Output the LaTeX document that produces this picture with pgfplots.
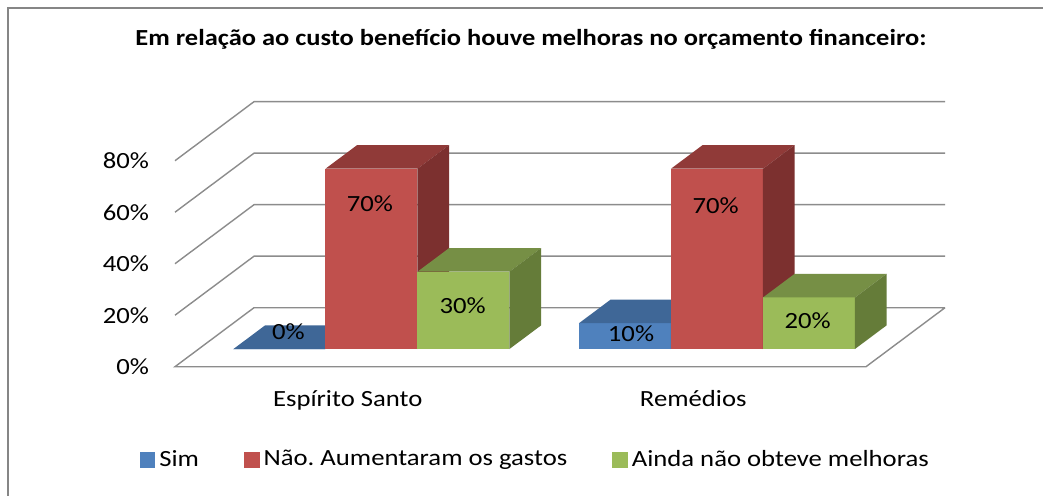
\documentclass[border=0pt]{standalone}
\usepackage{pgfplots}
\pgfplotsset{compat=1.18}
\usepackage{fontspec}
\setmainfont{Carlito}[FakeStretch=1.15]

\definecolor{sBlue}{HTML}{4F81BD}
\definecolor{sBluetop}{HTML}{3F6797}
\definecolor{sBlueside}{HTML}{385D8A}
\definecolor{sRed}{HTML}{C0504D}
\definecolor{sRedtop}{HTML}{903A38}
\definecolor{sRedside}{HTML}{7C302F}
\definecolor{sGreen}{HTML}{9BBB59}
\definecolor{sGreentop}{HTML}{768F45}
\definecolor{sGreenside}{HTML}{657C39}
\definecolor{gridgray}{HTML}{8C8C8C}
\definecolor{framegray}{HTML}{868686}

% #1 left x, #2 right x, #3 value (%), #4 colour
\newcommand{\cube}[4]{%
  \addplot3[fill=#4, draw=none, forget plot] coordinates {(#1,0.3,0) (#2,0.3,0) (#2,0.3,#3) (#1,0.3,#3)};
  \addplot3[fill=#4top, draw=none, forget plot] coordinates {(#1,0.3,#3) (#2,0.3,#3) (#2,0.7,#3) (#1,0.7,#3)};
  \addplot3[fill=#4side, draw=none, forget plot] coordinates {(#2,0.3,0) (#2,0.7,0) (#2,0.7,#3) (#2,0.3,#3)};
}

\begin{document}
\frenchspacing
\fontsize{11.6pt}{13.8pt}\selectfont
\begin{tikzpicture}[x=0.5pt, y=-0.5pt]
\useasboundingbox (0,0) rectangle (1043,496);
\fill[white] (0,0) rectangle (1043,496);
\draw[framegray, line width=1pt] (8,500) -- (8,8) -- (1050,8);
\coordinate (O) at (175,366.7);

\begin{axis}[
  at={(O)}, anchor=origin,
  x={(0.5pt,0pt)}, y={(39.5pt,29.5pt)}, z={(0pt,1.2875pt)},
  xmin=0, xmax=691, ymin=0, ymax=1, zmin=0, zmax=80,
  axis lines=left, axis line style={draw=none},
  xtick={172.75,518.25}, xticklabels={Espírito Santo,Remédios},
  ytick=\empty,
  ztick={0,20,40,60,80}, zticklabels={0\%,20\%,40\%,60\%,80\%},
  major tick length=0pt, tick style={draw=none},
  xticklabel style={anchor=north, yshift=-8pt},
  zticklabel style={anchor=east, xshift=-9pt},
  clip=false,
  legend columns=3,
  legend style={draw=none, fill=none, at={(axis description cs:0.4692,-0.352)}, anchor=center,
    /tikz/every odd column/.append style={column sep=0pt},
    /tikz/every even column/.append style={column sep=20.5pt}},
  legend cell align=left,
  legend image code/.code={\fill[#1] (0pt,-3.9pt) rectangle (7.8pt,3.9pt);},
]
% walls and floor
\addplot3[gridgray, line width=0.7pt, forget plot] coordinates {(691,1,0) (0,1,0) (0,0,0) (691,0,0) (691,1,0)};
\addplot3[gridgray, line width=0.7pt, forget plot] coordinates {(0,0,20) (0,1,20) (691,1,20)};
\addplot3[gridgray, line width=0.7pt, forget plot] coordinates {(0,0,40) (0,1,40) (691,1,40)};
\addplot3[gridgray, line width=0.7pt, forget plot] coordinates {(0,0,60) (0,1,60) (691,1,60)};
\addplot3[gridgray, line width=0.7pt, forget plot] coordinates {(0,0,80) (0,1,80) (691,1,80)};

% Espírito Santo: Sim 0, Nao 70, Ainda 30
\cube{34.75}{126.75}{0}{sBlue}
\cube{126.75}{218.75}{70}{sRed}
\cube{218.75}{310.75}{30}{sGreen}
% Remedios: Sim 10, Nao 70, Ainda 20
\cube{380.25}{472.25}{10}{sBlue}
\cube{472.25}{564.25}{70}{sRed}
\cube{564.25}{656.25}{20}{sGreen}

\node at (axis cs:89.6,0.3,6.7) {0\%};
\node at (axis cs:171.3,0.3,56.3) {70\%};
\node at (axis cs:264,0.3,16.7) {30\%};
\node at (axis cs:432.3,0.3,6.1) {10\%};
\node at (axis cs:517,0.3,55.5) {70\%};
\node at (axis cs:609,0.3,11) {20\%};

\addlegendimage{fill=sBlue, draw=none}
\addlegendentry{Sim}
\addlegendimage{fill=sRed, draw=none}
\addlegendentry{Não. Aumentaram os gastos}
\addlegendimage{fill=sGreen, draw=none}
\addlegendentry{Ainda não obteve melhoras}
\end{axis}

\node[anchor=base, font=\bfseries\fontsize{11.5pt}{14pt}\selectfont] at (531,45.7)
  {Em relação ao custo benefício houve melhoras no orçamento financeiro:};
\end{tikzpicture}
\end{document}
